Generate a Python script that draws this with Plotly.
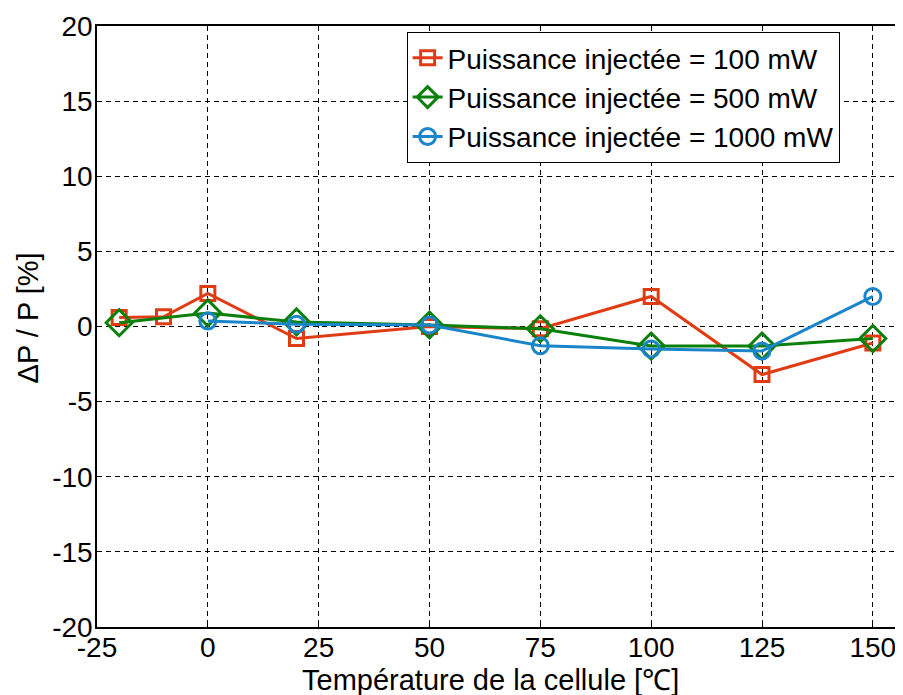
import plotly.graph_objects as go

# Données
temp_100 = [-20, -10, 0, 20, 50, 75, 100, 125, 150]
dp_100 = [0.6, 0.65, 2.2, -0.8, 0.0, -0.15, 2.0, -3.2, -1.1]

temp_500 = [-20, 0, 20, 50, 75, 100, 125, 150]
dp_500 = [0.25, 0.9, 0.3, 0.1, -0.15, -1.3, -1.3, -0.8]

temp_1000 = [0, 20, 50, 75, 100, 125, 150]
dp_1000 = [0.37, 0.15, 0.1, -1.28, -1.5, -1.63, 2.0]

x_ticks = [-25, 0, 25, 50, 75, 100, 125, 150]
y_ticks = [-20, -15, -10, -5, 0, 5, 10, 15, 20]

fig = go.Figure()

fig.add_trace(go.Scatter(
    x=temp_100, y=dp_100,
    mode='lines+markers',
    line=dict(color='#E03C14', width=3),
    marker=dict(symbol='square-open', size=14, color='#E03C14', line=dict(width=3)),
    name='Puissance injectée = 100 mW'
))
fig.add_trace(go.Scatter(
    x=temp_500, y=dp_500,
    mode='lines+markers',
    line=dict(color='#0A800A', width=3),
    marker=dict(symbol='diamond-open', size=20, color='#0A800A', line=dict(width=3)),
    name='Puissance injectée = 500 mW'
))
fig.add_trace(go.Scatter(
    x=temp_1000, y=dp_1000,
    mode='lines+markers',
    line=dict(color='#1A85C8', width=3),
    marker=dict(symbol='circle-open', size=16, color='#1A85C8', line=dict(width=3)),
    name='Puissance injectée = 1000 mW'
))

axis_style = dict(
    ticks='inside', ticklen=5, tickcolor='black',
    showline=True, linecolor='black', linewidth=1.5, mirror=True,
    showgrid=True, gridcolor='black', gridwidth=1, griddash='5px,4px',
    zeroline=False, automargin=False,
    tickfont=dict(size=28, color='black'),
)

fig.update_xaxes(
    range=[-25, 155],
    tickvals=x_ticks, ticktext=[str(v) for v in x_ticks],
    ticklabelstandoff=-5,
    **axis_style
)
fig.update_yaxes(
    range=[-20, 20],
    tickvals=y_ticks, ticktext=[str(v) for v in y_ticks],
    ticklabelstandoff=-3,
    **axis_style
)

fig.add_annotation(
    text='Température de la cellule [℃]', showarrow=False,
    xref='paper', yref='paper', x=0.4925, y=-0.088, yanchor='middle',
    font=dict(size=29, color='black')
)
fig.add_annotation(
    text='ΔP / P [%]', showarrow=False, textangle=-90,
    xref='paper', yref='paper', x=-0.086, y=0.514, xanchor='center', yanchor='middle',
    font=dict(size=29, color='black')
)

# la page HTML décale la figure de 8 px (marge du body) : marges compensées
fig.update_layout(
    width=903, height=695,
    margin=dict(l=89, r=16, t=18, b=76),
    paper_bgcolor='white',
    plot_bgcolor='white',
    font=dict(family='Liberation Sans, Arial, sans-serif', color='black'),
    legend=dict(
        x=0.388, y=0.99, xanchor='left', yanchor='top',
        bgcolor='white', bordercolor='black', borderwidth=1,
        font=dict(size=28, color='black'),
        tracegroupgap=0, itemwidth=30
    )
)

fig.write_html("out.html")
